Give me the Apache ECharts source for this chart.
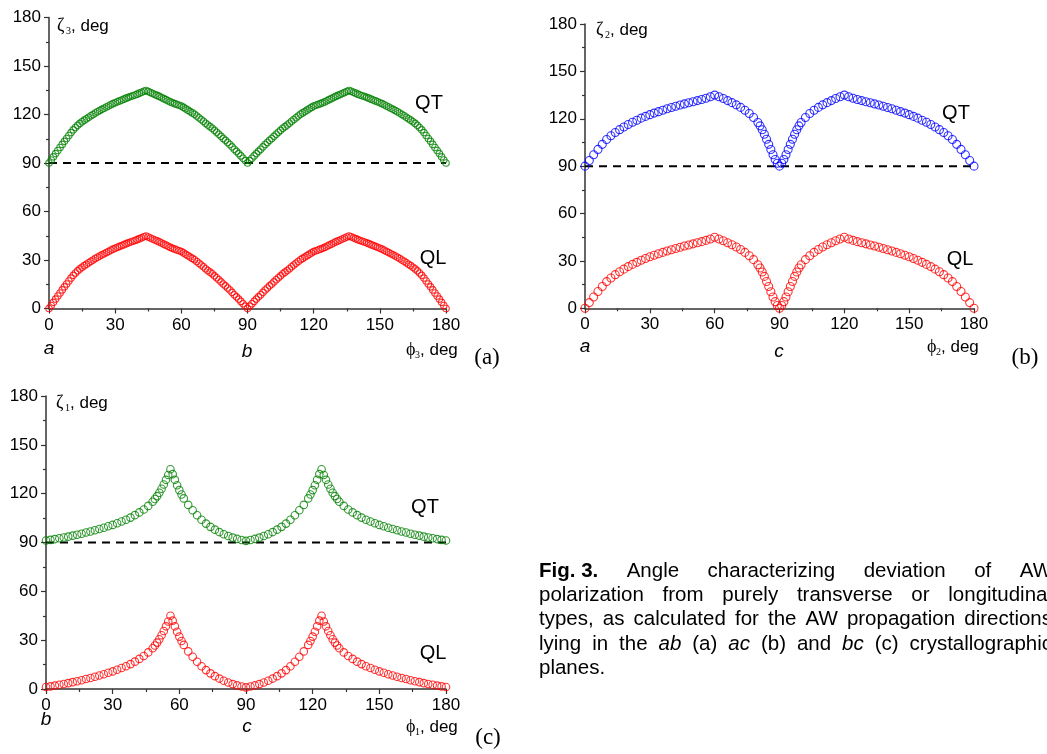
<!DOCTYPE html>
<html>
<head>
<meta charset="utf-8">
<script src="https://cdn.jsdelivr.net/npm/echarts@6/dist/echarts.min.js"></script>
<style>
html, body { margin: 0; padding: 0; background: #fff; }
#chart { width: 1047px; height: 754px; }
</style>
</head>
<body>
<div id="chart"></div>
<script>
// ---- data ----
const axisTicks = [0, 30, 60, 90, 120, 150, 180];
const refPhi = [0, 180];
const refZeta = [90, 90];

// (a) ab plane, 1 deg step
const phiA = [0,1,2,3,4,5,6,7,8,9,10,11,12,13,14,15,16,17,18,19,20,21,22,23,24,25,26,27,28,29,30,31,32,33,34,35,36,37,38,39,
  40,41,42,43,44,45,46,47,48,49,50,51,52,53,54,55,56,57,58,59,60,61,62,63,64,65,66,67,68,69,70,71,72,73,74,75,76,77,78,79,
  80,81,82,83,84,85,86,87,88,89,90,91,92,93,94,95,96,97,98,99,100,101,102,103,104,105,106,107,108,109,110,111,112,113,114,115,116,117,118,119,
  120,121,122,123,124,125,126,127,128,129,130,131,132,133,134,135,136,137,138,139,140,141,142,143,144,145,146,147,148,149,
  150,151,152,153,154,155,156,157,158,159,160,161,162,163,164,165,166,167,168,169,170,171,172,173,174,175,176,177,178,179,180];
const qlA = [0,1.9,3.8,5.8,7.7,9.6,11.5,13.4,15.2,17,
  18.8,20.5,22,23.3,24.5,25.5,26.5,27.4,28.3,29.2,
  30,30.9,31.7,32.5,33.2,33.9,34.6,35.3,36,36.7,
  37.3,37.9,38.4,39,39.5,40.1,40.6,41.1,41.6,42.1,
  42.6,43.2,43.8,44.4,44.8,44.2,43.6,43,42.4,41.8,
  41.2,40.5,39.8,39.2,38.5,37.8,37.2,36.7,36.2,35.7,
  35.2,34.4,33.5,32.7,31.8,31,30.2,29.1,28,26.9,
  25.8,24.6,23.5,22.5,21.5,20.2,19,17.8,16.5,15.2,
  14,12.7,11.4,10,8.5,7.2,5.8,4.4,2.9,1.5,
  0,
  1.5,2.9,4.4,5.8,7.2,8.5,10,11.4,12.7,14,
  15.2,16.5,17.8,19,20.2,21.5,22.5,23.5,24.6,25.8,
  26.9,28,29.1,30.2,31,31.8,32.7,33.5,34.4,35.2,
  35.7,36.2,36.7,37.2,37.8,38.5,39.2,39.8,40.5,41.2,
  41.8,42.4,43,43.6,44.2,44.8,44.4,43.8,43.2,42.6,
  42.1,41.6,41.1,40.6,40.1,39.5,39,38.4,37.9,37.3,
  36.7,36,35.3,34.6,33.9,33.2,32.5,31.7,30.9,30,
  29.2,28.3,27.4,26.5,25.5,24.5,23.3,22,20.5,18.8,
  17,15.2,13.4,11.5,9.6,7.7,5.8,3.8,1.9,0];
const qtA = [90,91.9,93.8,95.8,97.7,99.6,101.5,103.4,105.2,107,
  108.8,110.5,112,113.3,114.5,115.5,116.5,117.4,118.3,119.2,
  120,120.9,121.7,122.5,123.2,123.9,124.6,125.3,126,126.7,
  127.3,127.9,128.4,129,129.5,130.1,130.6,131.1,131.6,132.1,
  132.6,133.2,133.8,134.4,134.8,134.2,133.6,133,132.4,131.8,
  131.2,130.5,129.8,129.2,128.5,127.8,127.2,126.7,126.2,125.7,
  125.2,124.4,123.5,122.7,121.8,121,120.2,119.1,118,116.9,
  115.8,114.6,113.5,112.5,111.5,110.2,109,107.8,106.5,105.2,
  104,102.7,101.4,100,98.5,97.2,95.8,94.4,92.9,91.5,
  90,
  91.5,92.9,94.4,95.8,97.2,98.5,100,101.4,102.7,104,
  105.2,106.5,107.8,109,110.2,111.5,112.5,113.5,114.6,115.8,
  116.9,118,119.1,120.2,121,121.8,122.7,123.5,124.4,125.2,
  125.7,126.2,126.7,127.2,127.8,128.5,129.2,129.8,130.5,131.2,
  131.8,132.4,133,133.6,134.2,134.8,134.4,133.8,133.2,132.6,
  132.1,131.6,131.1,130.6,130.1,129.5,129,128.4,127.9,127.3,
  126.7,126,125.3,124.6,123.9,123.2,122.5,121.7,120.9,120,
  119.2,118.3,117.4,116.5,115.5,114.5,113.3,112,110.5,108.8,
  107,105.2,103.4,101.5,99.6,97.7,95.8,93.8,91.9,90];

// (b) ac plane
const phiB = [0,2,4,6,8,10,12,14,16,18,20,22,24,26,28,30,32,34,36,38,40,42,44,46,48,50,52,54,56,58,60,62,64,66,68,70,72,74,76,78,
  80,81,82,83,84,85,86,87,88,89,90,91,92,93,94,95,96,97,98,99,100,
  102,104,106,108,110,112,114,116,118,120,122,124,126,128,130,132,134,136,138,140,142,144,146,148,150,152,154,156,158,160,162,164,166,168,170,172,174,176,178,180];
const qlB = [0,3.6,7.2,10.6,13.8,16.9,19.2,21.3,23.1,24.8,26.4,27.8,29.1,30.4,31.5,32.6,33.6,34.5,35.4,36.3,37.1,37.9,38.7,39.4,40.1,40.8,41.5,42.2,43,43.9,45,43.9,42.8,41.5,40.2,38.8,37.2,35.4,33.3,30.8,
  27.6,25.5,23,20.2,17,13.8,10.5,7.2,4.2,1.8,0,1.8,4.2,7.2,10.5,13.8,17,20.2,23,25.5,27.6,
  30.8,33.3,35.4,37.2,38.8,40.2,41.5,42.8,43.9,45,43.9,43,42.2,41.5,40.8,40.1,39.4,38.7,37.9,37.1,36.3,35.4,34.5,33.6,32.6,31.5,30.4,29.1,27.8,26.4,24.8,23.1,21.3,19.2,16.9,13.8,10.6,7.2,3.6,0];
const qtB = [90,93.6,97.2,100.6,103.8,106.9,109.2,111.3,113.1,114.8,116.4,117.8,119.1,120.4,121.5,122.6,123.6,124.5,125.4,126.3,127.1,127.9,128.7,129.4,130.1,130.8,131.5,132.2,133,133.9,135,133.9,132.8,131.5,130.2,128.8,127.2,125.4,123.3,120.8,
  117.6,115.5,113,110.2,107,103.8,100.5,97.2,94.2,91.8,90,91.8,94.2,97.2,100.5,103.8,107,110.2,113,115.5,117.6,
  120.8,123.3,125.4,127.2,128.8,130.2,131.5,132.8,133.9,135,133.9,133,132.2,131.5,130.8,130.1,129.4,128.7,127.9,127.1,126.3,125.4,124.5,123.6,122.6,121.5,120.4,119.1,117.8,116.4,114.8,113.1,111.3,109.2,106.9,103.8,100.6,97.2,93.6,90];

// (c) bc plane
const phiC = [0,2,4,6,8,10,12,14,16,18,20,22,24,26,28,30,32,34,36,38,40,42,44,46,
  48,49,50,51,52,53,54,55,56,57,58,59,60,61,62,
  64,66,68,70,72,74,76,78,80,82,84,86,88,90,92,94,96,98,100,102,104,106,108,110,112,114,116,
  118,119,120,121,122,123,124,125,126,127,128,129,130,131,132,
  134,136,138,140,142,144,146,148,150,152,154,156,158,160,162,164,166,168,170,172,174,176,178,180];
const qlC = [1.2,1.6,2.1,2.6,3.1,3.6,4.2,4.8,5.4,6.1,6.8,7.5,8.3,9.1,10,10.8,11.8,12.9,14,15.3,16.8,18.5,20.3,22.5,
  25,26.7,28.5,30.6,33,35.6,38.5,41.5,45,42,38.5,35.2,32.2,29.5,27.1,
  23.1,19.8,16.7,14,11.6,9.6,7.9,6.4,5.1,4,3,2.2,1.5,1,1.5,2.2,3,4,5.1,6.4,7.9,9.6,11.6,14,16.7,19.8,23.1,
  27.1,29.5,32.2,35.2,38.5,42,45,41.5,38.5,35.6,33,30.6,28.5,26.7,25,
  22.5,20.3,18.5,16.8,15.3,14,12.9,11.8,10.8,10,9.1,8.3,7.5,6.8,6.1,5.4,4.8,4.2,3.6,3.1,2.6,2.1,1.6,1.2];
const qtC = [91.2,91.6,92.1,92.6,93.1,93.6,94.2,94.8,95.4,96.1,96.8,97.5,98.3,99.1,100,100.8,101.8,102.9,104,105.3,106.8,108.5,110.3,112.5,
  115,116.7,118.5,120.6,123,125.6,128.5,131.5,135,132,128.5,125.2,122.2,119.5,117.1,
  113.1,109.8,106.7,104,101.6,99.6,97.9,96.4,95.1,94,93,92.2,91.5,91,91.5,92.2,93,94,95.1,96.4,97.9,99.6,101.6,104,106.7,109.8,113.1,
  117.1,119.5,122.2,125.2,128.5,132,135,131.5,128.5,125.6,123,120.6,118.5,116.7,115,
  112.5,110.3,108.5,106.8,105.3,104,102.9,101.8,100.8,100,99.1,98.3,97.5,96.8,96.1,95.4,94.8,94.2,93.6,93.1,92.6,92.1,91.6,91.2];

// ---- styling / layout ----
const SANS = "'Liberation Sans', Arial, sans-serif";
const SERIF = "'Liberation Serif', 'Times New Roman', serif";
const GREEN = '#008000', RED = '#ff0000', BLUE = '#0000ff';

const panels = [
  { grid: { left: 49, top: 17.5, width: 397, height: 291 }, phi: phiA, qt: qtA, ql: qlA, qtColor: GREEN, size: 6.5 },
  { grid: { left: 585, top: 24, width: 389, height: 284.3 }, phi: phiB, qt: qtB, ql: qlB, qtColor: BLUE, size: 8 },
  { grid: { left: 46, top: 396, width: 400, height: 293 }, phi: phiC, qt: qtC, ql: qlC, qtColor: GREEN, size: 7.5 }
];

function makeAxis(i) {
  return {
    gridIndex: i, type: 'value', min: axisTicks[0], max: axisTicks[axisTicks.length - 1], interval: 30,
    axisLine: { show: true, lineStyle: { color: '#333', width: 1.5 } },
    axisTick: { show: true, inside: false, length: 5, lineStyle: { color: '#333', width: 1.2 } },
    minorTick: { show: true, splitNumber: 2, length: 3, lineStyle: { color: '#333', width: 1.2 } },
    splitLine: { show: false },
    axisLabel: { color: '#000', fontSize: 17, fontFamily: SANS, margin: 8 }
  };
}

function pairs(xs, ys) { return xs.map((x, i) => [x, ys[i]]); }

function ring(color) {
  return { color: 'rgba(0,0,0,0)', borderColor: color, borderWidth: 1.1 };
}

const series = [];
panels.forEach((p, i) => {
  series.push({
    type: 'line', xAxisIndex: i, yAxisIndex: i, data: pairs(refPhi, refZeta),
    symbol: 'none', silent: true, z: 1,
    lineStyle: { color: '#000', width: 2, type: [8, 6] }
  });
  series.push({
    type: 'scatter', xAxisIndex: i, yAxisIndex: i, data: pairs(p.phi, p.qt), clip: false,
    symbol: 'circle', symbolSize: p.size, itemStyle: ring(p.qtColor), z: 3
  });
  series.push({
    type: 'scatter', xAxisIndex: i, yAxisIndex: i, data: pairs(p.phi, p.ql), clip: false,
    symbol: 'circle', symbolSize: p.size, itemStyle: ring(RED), z: 3
  });
});

function txt(x, y, text, font, extra) {
  return {
    type: 'text', silent: true,
    style: Object.assign({ x: x, y: y, text: text, font: font, fill: '#000',
      textAlign: 'left', verticalAlign: 'middle' }, extra || {})
  };
}

const graphics = [];
// axis names with subscripts
function axisName(x, y, sym, sub) {
  graphics.push(txt(x, y, sym, '18px ' + SERIF));
  graphics.push(txt(x + 9, y + 5, sub, '10px ' + SERIF));
  graphics.push(txt(x + 14, y, ', deg', '17px ' + SANS));
}
axisName(57, 26, 'ζ', '3');
axisName(406, 350, 'ϕ', '3');
axisName(596, 30, 'ζ', '2');
axisName(927, 347, 'ϕ', '2');
axisName(56, 403, 'ζ', '1');
axisName(406, 727, 'ϕ', '1');

// crystal axes under the x axis
const itF = 'italic 19px ' + SANS;
graphics.push(txt(49, 349, 'a', itF, { textAlign: 'center' }));
graphics.push(txt(247, 352, 'b', itF, { textAlign: 'center' }));
graphics.push(txt(585, 347, 'a', itF, { textAlign: 'center' }));
graphics.push(txt(779, 352, 'c', itF, { textAlign: 'center' }));
graphics.push(txt(46, 720, 'b', itF, { textAlign: 'center' }));
graphics.push(txt(247, 727, 'c', itF, { textAlign: 'center' }));

// panel letters
graphics.push(txt(487, 358, '(a)', '23px ' + SERIF, { textAlign: 'center' }));
graphics.push(txt(1025, 358, '(b)', '23px ' + SERIF, { textAlign: 'center' }));
graphics.push(txt(488, 738, '(c)', '23px ' + SERIF, { textAlign: 'center' }));

// curve labels
const lblF = '20px ' + SANS;
graphics.push(txt(429, 103, 'QT', lblF, { textAlign: 'center' }));
graphics.push(txt(433, 258, 'QL', lblF, { textAlign: 'center' }));
graphics.push(txt(956, 113, 'QT', lblF, { textAlign: 'center' }));
graphics.push(txt(960, 259, 'QL', lblF, { textAlign: 'center' }));
graphics.push(txt(425, 507, 'QT', lblF, { textAlign: 'center' }));
graphics.push(txt(433, 653, 'QL', lblF, { textAlign: 'center' }));

// caption, justified between capLeft and capRight (right side runs off the page)
const capF = '20.5px ' + SANS;
const capI = 'italic 20.5px ' + SANS;
const capB = 'bold 20.5px ' + SANS;
const capLeft = 539, capRight = 1052;
const capLines = [
  { y: 571, justify: true, words: [['Fig. 3.', capB], ['Angle'], ['characterizing'], ['deviation'], ['of'], ['AW']] },
  { y: 595, justify: true, words: [['polarization'], ['from'], ['purely'], ['transverse'], ['or'], ['longitudinal']] },
  { y: 619, justify: true, words: [['types,'], ['as'], ['calculated'], ['for'], ['the'], ['AW'], ['propagation'], ['directions']] },
  { y: 644, justify: true, words: [['lying'], ['in'], ['the'], ['ab', capI], ['(a)'], ['ac', capI], ['(b)'], ['and'], ['bc', capI], ['(c)'], ['crystallographic']] },
  { y: 668, justify: false, words: [['planes.']] }
];
const measureCtx = document.createElement('canvas').getContext('2d');
function wordWidth(w, f) { measureCtx.font = f; return measureCtx.measureText(w).width; }
capLines.forEach(l => {
  const fonts = l.words.map(w => w[1] || capF);
  const widths = l.words.map((w, i) => wordWidth(w[0], fonts[i]));
  const total = widths.reduce((s, v) => s + v, 0);
  const gap = l.justify && l.words.length > 1
    ? (capRight - capLeft - total) / (l.words.length - 1)
    : wordWidth(' ', capF);
  let x = capLeft;
  l.words.forEach((w, i) => {
    graphics.push(txt(x, l.y, w[0], fonts[i]));
    x += widths[i] + gap;
  });
});

const chart = echarts.init(document.getElementById('chart'), null, { renderer: 'canvas' });
chart.setOption({
  animation: false,
  backgroundColor: '#fff',
  grid: panels.map(p => Object.assign({ containLabel: false }, p.grid)),
  xAxis: panels.map((p, i) => makeAxis(i)),
  yAxis: panels.map((p, i) => makeAxis(i)),
  series: series,
  graphic: graphics
});
window.addEventListener('resize', () => chart.resize());
</script>
</body>
</html>
